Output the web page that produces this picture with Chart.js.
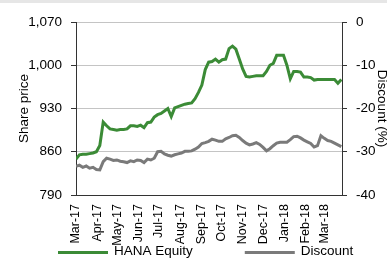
<!DOCTYPE html>
<html>
<head>
<meta charset="utf-8">
<script src="https://cdn.jsdelivr.net/npm/chart.js@4.4.1/dist/chart.umd.min.js"></script>
<style>
html, body { margin: 0; padding: 0; background: #fff; }
#wrap {
    position: relative;
    width: 387px;
    height: 258px;
    background: linear-gradient(#e6e6e6 0, #e6e6e6 3px, #fff 3px);
}
</style>
</head>
<body>
<div id="wrap"><canvas id="chart" width="387" height="258"></canvas></div>
<script>
// month ticks (days since 1 Mar 2017)
const monthDays = [0, 31, 61, 92, 122, 153, 184, 214, 245, 275, 306, 337, 365];
const monthLabels = ["Mar-17", "Apr-17", "May-17", "Jun-17", "Jul-17", "Aug-17",
    "Sep-17", "Oct-17", "Nov-17", "Dec-17", "Jan-18", "Feb-18", "Mar-18"];
const lastDay = 391;
const stepDays = 5;

// left axis, share price
const priceTicks = [790, 860, 930, 1000, 1070];
const hanaEquity = [
    848, 855, 856, 856, 857, 858, 860, 870, 908, 902,
    897, 896, 895, 896, 896, 897, 902, 902, 901, 903,
    899, 907, 908, 916, 920, 922, 926, 930, 917, 931,
    933, 935, 937, 938, 939, 946, 956, 968, 993, 1005,
    1006, 1010, 1005, 1009, 1010, 1027, 1031, 1026, 1010, 994,
    982, 981, 982, 983, 983, 983, 990, 1000, 1003, 1016,
    1016, 1016, 1000, 978, 990, 990, 989, 981, 981, 980,
    976, 977, 977, 977, 977, 977, 977, 971, 977
];

// right axis, discount %
const discountTicks = [-40, -30, -20, -10, 0];
const discount = [
    -33.4, -33.1, -33.6, -33.3, -33.8, -33.6, -34.1, -34.2, -32.3, -31.5,
    -31.7, -32.0, -31.9, -32.2, -32.3, -32.5, -32.1, -32.3, -31.9, -32.0,
    -32.5, -31.7, -31.9, -31.5, -30.0, -29.9, -30.5, -30.8, -31.0, -30.7,
    -30.5, -30.3, -29.9, -29.9, -29.8, -29.4, -28.9, -28.1, -27.9, -27.6,
    -27.1, -27.3, -27.6, -27.6, -27.0, -26.7, -26.3, -26.2, -26.7, -27.4,
    -28.0, -28.4, -28.2, -27.9, -28.3, -29.0, -29.8, -29.3, -28.6, -28.0,
    -27.8, -27.8, -27.8, -27.2, -26.5, -26.4, -26.8, -27.3, -27.7, -28.1,
    -28.9, -28.6, -26.3, -26.9, -27.4, -27.6, -28.0, -28.4, -28.8
];

// narrow font if the machine has one, otherwise a smaller regular sans
function hasFont(name) {
    const c = document.createElement("canvas").getContext("2d");
    const s = "Mar-17 1,070 HANA Equity";
    c.font = "40px monospace";
    const a = c.measureText(s).width;
    c.font = "40px '" + name + "', monospace";
    return c.measureText(s).width !== a;
}
const narrow = ["Liberation Sans Narrow", "Arial Narrow", "Nimbus Sans Narrow"].find(hasFont);
const FONT = narrow ? "'" + narrow + "', sans-serif" : "'Liberation Sans', Arial, sans-serif";
const SIZE = narrow ? 15 : 13.5;
const MONTH_SIZE = narrow ? 15 : 12.5;

const GREEN = "#3b8b36";
const GREY = "#7a7a7a";
const AXIS = "#333333";

Chart.defaults.font.family = FONT;
Chart.defaults.font.size = SIZE;
Chart.defaults.color = "#000";

function toPoints(values) {
    return values.map((v, i) => ({ x: i * stepDays, y: v }));
}

// legend under the x labels: line sample + text, group centred like the original
const bottomLegend = {
    id: "bottomLegend",
    afterDraw(chart) {
        const ctx = chart.ctx;
        const sets = chart.data.datasets;
        const lineLen = 50, textGap = 6, itemGap = 52;
        ctx.save();
        ctx.font = SIZE + "px " + FONT;
        ctx.textBaseline = "middle";
        const widths = sets.map(ds => ctx.measureText(ds.label).width);
        let total = 0;
        widths.forEach((w, i) => { total += lineLen + textGap + w + (i ? itemGap : 0); });
        let x = Math.round(205.5 - total / 2);
        const y = 251.5;
        sets.forEach((ds, i) => {
            ctx.strokeStyle = ds.borderColor;
            ctx.lineWidth = 3;
            ctx.beginPath();
            ctx.moveTo(x, y + 1);
            ctx.lineTo(x + lineLen, y + 1);
            ctx.stroke();
            ctx.fillStyle = "#000";
            ctx.fillText(ds.label, x + lineLen + textGap, y);
            x += lineLen + textGap + widths[i] + itemGap;
        });
        ctx.restore();
    }
};

function createChart() {
    const canvas = document.querySelector("#chart");

    let options = {
        type: "line",
        data: {
            datasets: [
                {
                    label: "HANA Equity",
                    data: toPoints(hanaEquity),
                    yAxisID: "y",
                    borderColor: GREEN,
                    backgroundColor: GREEN,
                    borderWidth: 3,
                    pointRadius: 0,
                    tension: 0,
                },
                {
                    label: "Discount",
                    data: toPoints(discount),
                    yAxisID: "y2",
                    borderColor: GREY,
                    backgroundColor: GREY,
                    borderWidth: 3,
                    pointRadius: 0,
                    tension: 0,
                },
            ],
        },
        options: {
            responsive: false,
            animation: false,
            devicePixelRatio: 1,
            layout: {
                // bottom strip is left to the x labels and the legend plugin
                padding: { top: 22, bottom: 1, left: 0, right: 0 },
            },
            scales: {
                x: {
                    type: "linear",
                    min: 0,
                    max: lastDay,
                    afterBuildTicks: (scale) => {
                        scale.ticks = monthDays.map(d => ({ value: d }));
                    },
                    afterFit: (scale) => { scale.height = 62; },
                    ticks: {
                        autoSkip: false,
                        minRotation: 90,
                        maxRotation: 90,
                        padding: 1,
                        font: { size: MONTH_SIZE },
                        callback: (v) => monthLabels[monthDays.indexOf(v)],
                    },
                    grid: { display: false },
                    border: { display: true, color: AXIS, width: 1 },
                },
                y: {
                    position: "left",
                    min: 790,
                    max: 1070,
                    afterBuildTicks: (scale) => {
                        scale.ticks = priceTicks.map(v => ({ value: v }));
                    },
                    afterFit: (scale) => { scale.width = 76; },
                    ticks: {
                        padding: 9,
                        callback: (v) => v.toLocaleString("en-US"),
                    },
                    grid: {
                        color: "#c4c4c4",
                        tickColor: AXIS,
                        tickLength: 5,
                    },
                    border: { color: AXIS, width: 1 },
                    title: {
                        display: true,
                        text: "Share price",
                        font: { size: SIZE, lineHeight: 1.2 },
                        padding: { top: 16, bottom: 0 },
                    },
                },
                y2: {
                    position: "right",
                    min: -40,
                    max: 0,
                    afterBuildTicks: (scale) => {
                        scale.ticks = discountTicks.map(v => ({ value: v }));
                    },
                    afterFit: (scale) => { scale.width = 45; },
                    ticks: { padding: 9 },
                    grid: {
                        drawOnChartArea: false,
                        tickColor: AXIS,
                        tickLength: 5,
                    },
                    border: { color: AXIS, width: 1 },
                    title: {
                        display: true,
                        text: "Discount (%)",
                        font: { size: SIZE, lineHeight: 1 },
                        padding: { top: -1, bottom: 0 },
                    },
                },
            },
            plugins: {
                legend: { display: false },
                title: { display: false },
                tooltip: { enabled: false },
            },
        },
        plugins: [bottomLegend],
    };

    const chart = new Chart(canvas.getContext("2d"), options);
}

createChart();
</script>
</body>
</html>
